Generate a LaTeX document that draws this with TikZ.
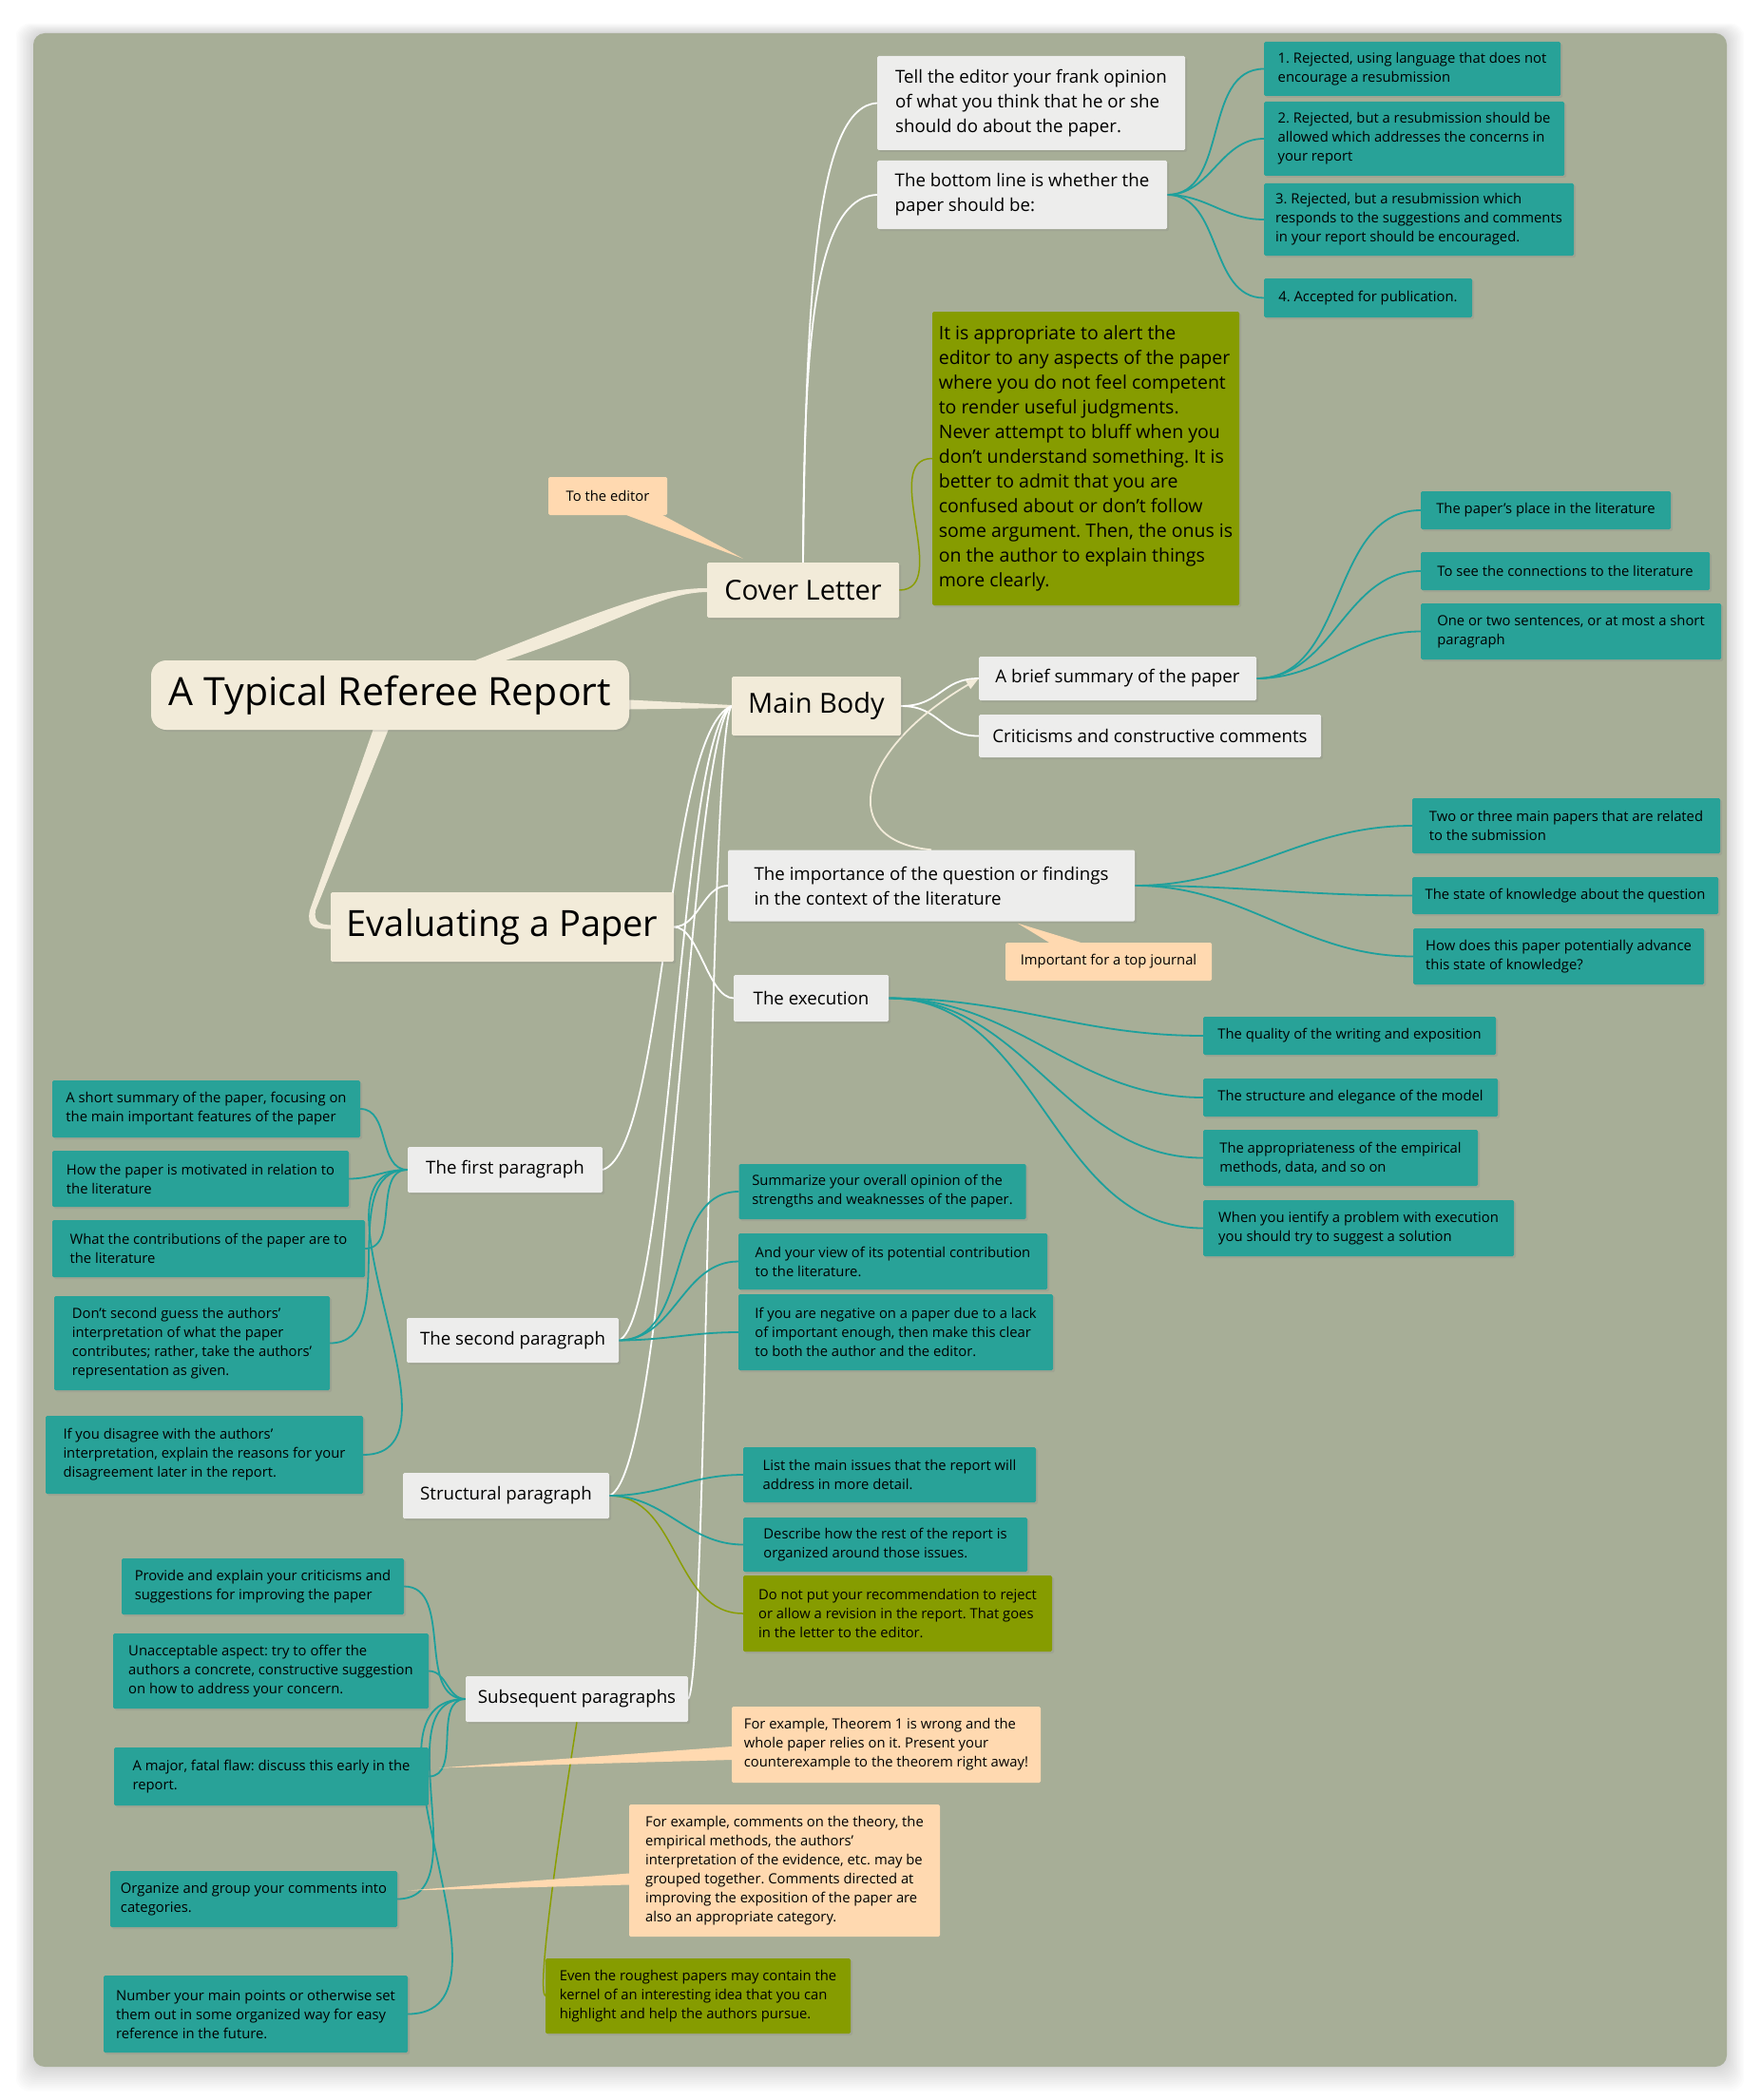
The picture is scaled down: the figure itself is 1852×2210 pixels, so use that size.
\documentclass[tikz,border=0pt]{standalone}
\usepackage{fontspec}
\setmainfont{Open Sans}
\usetikzlibrary{arrows.meta,shadows}
\definecolor{panel}{RGB}{167,174,151}
\definecolor{cream}{RGB}{242,235,217}
\definecolor{paper}{RGB}{237,237,236}
\definecolor{leafteal}{RGB}{40,162,152}
\definecolor{noteolive}{RGB}{134,156,0}
\definecolor{peach}{RGB}{255,217,176}
\definecolor{tealline}{RGB}{30,160,156}
\definecolor{oliveline}{RGB}{138,158,0}
\pgfdeclarelayer{back}
\pgfdeclarelayer{links}
\pgfsetlayers{back,links,main}
\frenchspacing
\begin{document}
\begin{tikzpicture}[x=1pt, y=-1pt,
    rootbox/.style={fill=cream, rounded corners=16pt, font=\fontsize{41}{48}\selectfont, inner sep=0pt, minimum width=503, minimum height=73, drop shadow={opacity=0.2, shadow xshift=2pt, shadow yshift=-2pt}},
    topic/.style={fill=cream, rounded corners=1.5pt, font=\fontsize{29}{34}\selectfont, inner sep=0pt, drop shadow={opacity=0.2, shadow xshift=2pt, shadow yshift=-2pt}},
    sub/.style={fill=paper, rounded corners=1.5pt, font=\fontsize{18.7}{26}\selectfont, align=left, inner sep=0pt, drop shadow={opacity=0.2, shadow xshift=2pt, shadow yshift=-2pt}},
    leaf/.style={fill=leafteal, rounded corners=1.5pt, font=\fontsize{14.8}{20}\selectfont, align=left, inner sep=0pt, drop shadow={opacity=0.2, shadow xshift=2pt, shadow yshift=-2pt}},
    remark/.style={fill=noteolive, rounded corners=1.5pt, font=\fontsize{14.8}{20}\selectfont, align=left, inner sep=0pt, drop shadow={opacity=0.2, shadow xshift=2pt, shadow yshift=-2pt}},
    hint/.style={fill=peach, rounded corners=1.5pt, font=\fontsize{14.8}{20}\selectfont, align=left, inner sep=0pt},
    branch/.style={fill=cream},
    wline/.style={draw=white, line width=1.8pt},
    tline/.style={draw=tealline, line width=1.8pt},
    oline/.style={draw=oliveline, line width=1.5pt},
]
\useasboundingbox (0,0) rectangle (1852,2210);

% Page and panel
\begin{pgfonlayer}{back}
\fill[white] (0,0) rectangle (1852,2210);
\foreach \s in {2,4,...,26}
  \fill[black, opacity=0.012, rounded corners=14pt] (35-\s*0.7,35-\s*0.4) rectangle (1817+\s*0.7,2175+\s);
\fill[panel, rounded corners=12pt] (35,35) rectangle (1817,2175);
\end{pgfonlayer}

% Root and main topics
\node[rootbox] (root) at (410.5,731.5) {A Typical Referee Report};
\node[topic, minimum width=202, minimum height=58] (cover) at (845,621) {Cover Letter};
\node[topic, minimum width=178, minimum height=62] (mainbody) at (859,743) {Main Body};
\node[topic, font=\fontsize{38}{44}\selectfont, minimum width=361, minimum height=73] (evaluating) at (528.5,975.5) {Evaluating a Paper};

% Cover letter
\node[sub, minimum width=324, minimum height=99] (tell) at (1085,108.5) {Tell the editor your frank opinion\\of what you think that he or she\\should do about the paper.};
\node[sub, minimum width=305, minimum height=72] (bottom) at (1075.5,205) {The bottom line is whether the\\paper should be:};
\node[remark, font=\fontsize{19.5}{26}\selectfont, minimum width=323, minimum height=309] (alert) at (1142.5,482.5) {It is appropriate to alert the\\editor to any aspects of the paper\\where you do not feel competent\\to render useful judgments.\\Never attempt to bluff when you\\don't understand something. It is\\better to admit that you are\\confused about or don't follow\\some argument. Then, the onus is\\on the author to explain things\\more clearly.};
\node[leaf, minimum width=312, minimum height=57] (rej1) at (1486,72.5) {1. Rejected, using language that does not\\encourage a resubmission};
\node[leaf, minimum width=316, minimum height=78] (rej2) at (1488,146) {2. Rejected, but a resubmission should be\\allowed which addresses the concerns in\\your report};
\node[leaf, minimum width=326, minimum height=76] (rej3) at (1493,231) {3. Rejected, but a resubmission which\\responds to the suggestions and comments\\in your report should be encouraged.};
\node[leaf, minimum width=219, minimum height=41] (acc4) at (1439.5,313.5) {4. Accepted for publication.};
\node[hint, minimum width=125, minimum height=40] (toeditor) at (639.5,522) {To the editor};

% Main body
\node[sub, minimum width=292, minimum height=46] (brief) at (1176,714) {A brief summary of the paper};
\node[sub, minimum width=360, minimum height=45] (critic) at (1210,774.5) {Criticisms and constructive comments};
\node[leaf, minimum width=263, minimum height=40] (place) at (1626.5,537) {The paper's place in the literature};
\node[leaf, minimum width=304, minimum height=40] (connect) at (1647,601) {To see the connections to the literature};
\node[leaf, minimum width=316, minimum height=59] (sentences) at (1653,664.5) {One or two sentences, or at most a short\\paragraph};

% Evaluating a paper
\node[sub, minimum width=428, minimum height=75] (importance) at (980,932) {The importance of the question or findings\\in the context of the literature};
\node[sub, minimum width=163, minimum height=49] (execution) at (853.5,1050.5) {The execution};
\node[hint, minimum width=217, minimum height=40] (topjournal) at (1166.5,1012) {Important for a top journal};
\node[leaf, minimum width=324, minimum height=58] (twothree) at (1648,869) {Two or three main papers that are related\\to the submission};
\node[leaf, minimum width=322, minimum height=39] (stateknow) at (1647,942.5) {The state of knowledge about the question};
\node[leaf, minimum width=306, minimum height=59] (advance) at (1640,1006.5) {How does this paper potentially advance\\this state of knowledge?};
\node[leaf, minimum width=308, minimum height=40] (quality) at (1420,1090) {The quality of the writing and exposition};
\node[leaf, minimum width=310, minimum height=40] (structure) at (1421,1155) {The structure and elegance of the model};
\node[leaf, minimum width=289, minimum height=59] (approp) at (1410.5,1218.5) {The appropriateness of the empirical\\methods, data, and so on};
\node[leaf, minimum width=327, minimum height=59] (ientify) at (1429.5,1292.5) {When you ientify a problem with execution\\you should try to suggest a solution};

% Paragraphs
\node[sub, minimum width=205, minimum height=48] (firstpara) at (531.5,1231) {The first paragraph};
\node[sub, minimum width=223, minimum height=47] (secondpara) at (539.5,1410.5) {The second paragraph};
\node[sub, minimum width=217, minimum height=48] (structural) at (532.5,1574) {Structural paragraph};
\node[sub, minimum width=234, minimum height=48] (subsequent) at (607,1788) {Subsequent paragraphs};

\node[leaf, minimum width=324, minimum height=60] (shortsum) at (217,1167) {A short summary of the paper, focusing on\\the main important features of the paper};
\node[leaf, minimum width=312, minimum height=59] (motivated) at (211,1240.5) {How the paper is motivated in relation to\\the literature};
\node[leaf, minimum width=329, minimum height=60] (contrib) at (219.5,1314) {What the contributions of the paper are to\\the literature};
\node[leaf, minimum width=290, minimum height=99] (dontsecond) at (202,1413.5) {Don't second guess the authors'\\interpretation of what the paper\\contributes; rather, take the authors'\\representation as given.};
\node[leaf, minimum width=334, minimum height=82] (disagree) at (215,1531) {If you disagree with the authors'\\interpretation, explain the reasons for your\\disagreement later in the report.};

\node[leaf, minimum width=302, minimum height=58] (overall) at (928.5,1254) {Summarize your overall opinion of the\\strengths and weaknesses of the paper.};
\node[leaf, minimum width=325, minimum height=59] (yourview) at (939.5,1327.5) {And your view of its potential contribution\\to the literature.};
\node[leaf, minimum width=331, minimum height=80] (negative) at (942.5,1402) {If you are negative on a paper due to a lack\\of important enough, then make this clear\\to both the author and the editor.};

\node[leaf, minimum width=308, minimum height=58] (listissues) at (936,1552) {List the main issues that the report will\\address in more detail.};
\node[leaf, minimum width=299, minimum height=57] (describe) at (931.5,1625.5) {Describe how the rest of the report is\\organized around those issues.};
\node[remark, minimum width=325, minimum height=80] (donotput) at (944.5,1698) {Do not put your recommendation to reject\\or allow a revision in the report. That goes\\in the letter to the editor.};

\node[leaf, minimum width=297, minimum height=59] (provide) at (276.5,1669.5) {Provide and explain your criticisms and\\suggestions for improving the paper};
\node[leaf, minimum width=332, minimum height=79] (unaccept) at (285,1758.5) {Unacceptable aspect: try to offer the\\authors a concrete, constructive suggestion\\on how to address your concern.};
\node[leaf, minimum width=331, minimum height=61] (major) at (285.5,1869.5) {A major, fatal flaw: discuss this early in the\\report.};
\node[leaf, minimum width=302, minimum height=59] (organize) at (267,1998.5) {Organize and group your comments into\\categories.};
\node[leaf, minimum width=320, minimum height=81] (number) at (269,2119.5) {Number your main points or otherwise set\\them out in some organized way for easy\\reference in the future.};
\node[hint, minimum width=325, minimum height=80] (theorem) at (932.5,1836) {For example, Theorem 1 is wrong and the\\whole paper relies on it. Present your\\counterexample to the theorem right away!};
\node[hint, minimum width=327, minimum height=139] (forexample) at (825.5,1968.5) {For example, comments on the theory, the\\empirical methods, the authors'\\interpretation of the evidence, etc. may be\\grouped together. Comments directed at\\improving the exposition of the paper are\\also an appropriate category.};
\node[remark, minimum width=321, minimum height=79] (roughest) at (734.5,2100.5) {Even the roughest papers may contain the\\kernel of an interesting idea that you can\\highlight and help the authors pursue.};

\begin{pgfonlayer}{links}
% Tapered branches from the root
\fill[branch] ([xshift=90pt]root.north) .. controls (640,640) and (690,619) .. ([yshift=2pt]cover.west) -- ([yshift=-2pt]cover.west) .. controls (695,624) and (660,652) .. ([xshift=122pt]root.north) -- cycle;
\fill[branch] ([yshift=-5pt]root.east) -- ([yshift=1pt]mainbody.west) -- ([yshift=-2pt]mainbody.west) -- ([yshift=-15pt]root.east) -- cycle;
\fill[branch] ([xshift=-18pt]root.south) -- (326,958) .. controls (322,976) and (332,978) .. ([yshift=-2pt]evaluating.west) -- ([yshift=2pt]evaluating.west) .. controls (336,973) and (330,970) .. (332,958) -- ([xshift=-2pt]root.south) -- cycle;

% White links
\draw[wline] (cover.north) .. controls (848,300) and (860,112) .. (tell.west);
\draw[wline] (cover.north) .. controls (846,360) and (856,208) .. (bottom.west);
\draw[wline] (mainbody.east) .. controls (990,743) and (990,714) .. (brief.west);
\draw[wline] (mainbody.east) .. controls (990,743) and (990,775) .. (critic.west);
\draw[wline] (mainbody.west) .. controls (700,770) and (700,1210) .. (firstpara.east);
\draw[wline] (mainbody.west) .. controls (715,770) and (705,1390) .. (secondpara.east);
\draw[wline] (mainbody.west) .. controls (725,770) and (705,1550) .. (structural.east);
\draw[wline] (mainbody.west) .. controls (745,770) and (745,1760) .. (subsequent.east);
\draw[wline] (evaluating.east) .. controls (735,975) and (740,932) .. (importance.west);
\draw[wline] (evaluating.east) .. controls (735,975) and (745,1050) .. (execution.west);
\draw[draw=cream, line width=1.8pt, -{Triangle[length=13pt,width=10pt]}] (importance.north) .. controls (880,885) and (900,790) .. (brief.west);

% Olive links
\draw[oline] (cover.east) to[out=0,in=180] (alert.west);
\draw[oline] (structural.east) to[out=0,in=180] (donotput.west);
\draw[oline] (subsequent.south) .. controls (585,1950) and (565,2095) .. (roughest.west);

% Teal links
\foreach \n in {rej1,rej2,rej3,acc4}
  \draw[tline] (bottom.east) to[out=0,in=180] (\n.west);
\foreach \n in {place,connect,sentences}
  \draw[tline] (brief.east) to[out=0,in=180] (\n.west);
\foreach \n in {twothree,stateknow,advance}
  \draw[tline] (importance.east) to[out=0,in=180] (\n.west);
\foreach \n in {quality,structure,approp,ientify}
  \draw[tline] (execution.east) to[out=0,in=180] (\n.west);
\foreach \n in {shortsum,motivated,contrib,dontsecond,disagree}
  \draw[tline] (firstpara.west) to[out=180,in=0] (\n.east);
\foreach \n in {overall,yourview,negative}
  \draw[tline] (secondpara.east) to[out=0,in=180] (\n.west);
\foreach \n in {listissues,describe}
  \draw[tline] (structural.east) to[out=0,in=180] (\n.west);
\foreach \n in {provide,unaccept,major,organize,number}
  \draw[tline] (subsequent.west) to[out=180,in=0] (\n.east);

% Callout pointers
\fill[peach] ([xshift=20pt]toeditor.south) -- ([xshift=38pt,yshift=4pt]cover.north west) -- ([xshift=58pt]toeditor.south) -- cycle;
\fill[peach] ([xshift=46pt]topjournal.north west) -- ([xshift=91pt,yshift=-2pt]importance.south) -- ([xshift=79pt]topjournal.north west) -- cycle;
\fill[peach] ([yshift=-2pt]theorem.west) -- ([xshift=11pt,yshift=9pt]major.east) -- ([yshift=-16pt]theorem.west) -- cycle;
\fill[peach] ([yshift=-3pt]forexample.west) -- ([xshift=11pt,yshift=9pt]organize.east) -- ([yshift=-15pt]forexample.west) -- cycle;
\end{pgfonlayer}

\end{tikzpicture}
\end{document}
